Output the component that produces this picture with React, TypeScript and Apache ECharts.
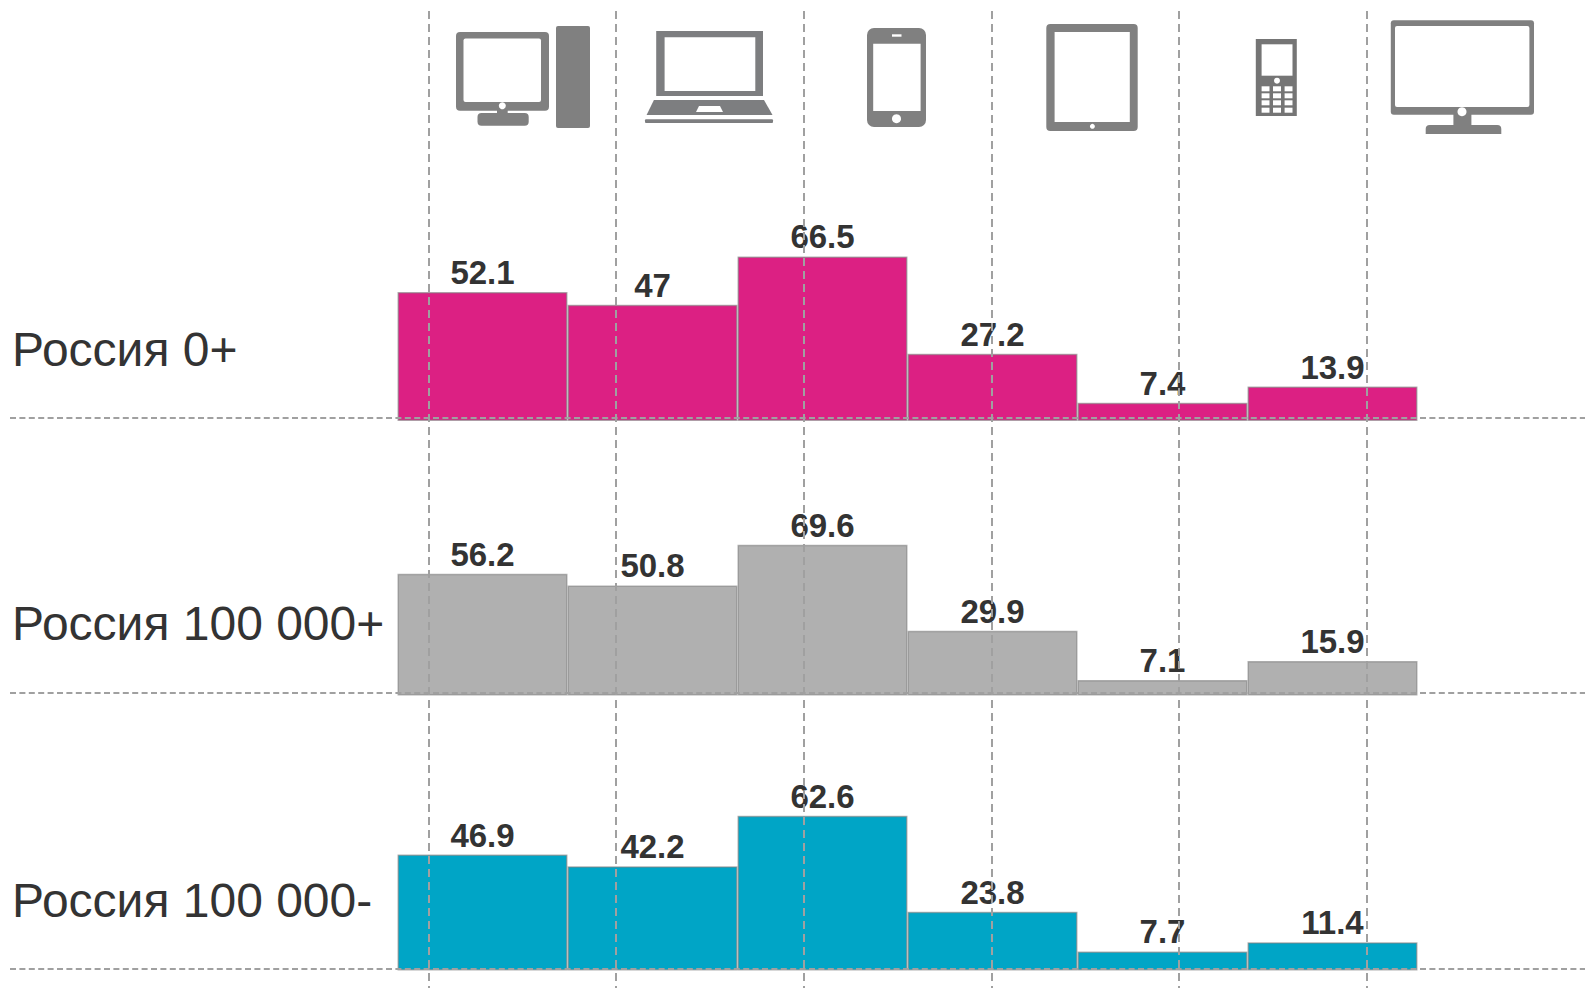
import React, { useEffect, useRef } from "react";
import * as echarts from "echarts";

const devices = ["Настольный компьютер", "Ноутбук", "Смартфон", "Планшет", "Мобильный телефон", "Телевизор"];
const rowNames = ["Россия 0+", "Россия 100 000+", "Россия 100 000-"];
const russiaAll = [52.1, 47, 66.5, 27.2, 7.4, 13.9];
const russiaBig = [56.2, 50.8, 69.6, 29.9, 7.1, 15.9];
const russiaSmall = [46.9, 42.2, 62.6, 23.8, 7.7, 11.4];
const rowValues = [russiaAll, russiaBig, russiaSmall];
const rowColors = ["#dc2083", "#b0b0b0", "#00a5c6"];
const rowAxisMax = [68.7, 78.5, 68.8];
const rowBaselines = [421, 695.5, 970.5];
const rowLabelCenters = [349, 623, 900.5];

const GREY = "#808080";
const box = (x0: number, y0: number, x1: number, y1: number, fill = GREY, r: any = 0) => ({
  type: "rect",
  z: 1,
  shape: { x: x0, y: y0, width: x1 - x0, height: y1 - y0, r },
  style: { fill },
});
const dot = (cx: number, cy: number, r: number, fill = "#fff") => ({
  type: "circle",
  z: 1,
  shape: { cx, cy, r },
  style: { fill },
});
const poly = (points: number[][], fill = GREY) => ({
  type: "polygon",
  z: 1,
  shape: { points },
  style: { fill },
});

function iconElements() {
  const keyCols = [[1261.6, 1269.5], [1273, 1281], [1284.6, 1292.5]];
  const keyRows = [[86.3, 91.3], [93.3, 98.3], [100.3, 105.3], [107.7, 112.7]];
  const keys: any[] = [];
  keyRows.forEach((r) => keyCols.forEach((c) => keys.push(box(c[0], r[0], c[1], r[1], "#fff"))));
  const children: any[] = [
    // desktop
    box(456, 32, 549, 110.7, GREY, 4),
    box(463.5, 38.5, 541, 102, "#fff", 2),
    box(497, 109, 507.7, 114),
    box(477.5, 113, 528.7, 125.7, GREY, 4),
    dot(502.3, 105.7, 3.5),
    box(556, 26, 590, 128, GREY, 2),
    // laptop
    box(656.2, 31, 763, 96, "#7d7e80"),
    box(664.6, 37.3, 755.3, 91, "#fff"),
    poly([[653.9, 100], [764, 100], [772.5, 115], [646.6, 115]], "#7d7e80"),
    poly([[699, 106], [720, 106], [723, 112], [696, 112]], "#fff"),
    box(645, 119.3, 773, 123, "#7d7e80", 1),
    // smartphone
    box(867, 28, 926, 127, GREY, 7),
    box(873.2, 43.7, 920.6, 111, "#fff"),
    box(892, 34.3, 901.5, 36.7, "#fff"),
    dot(896.5, 118.7, 4.5),
    // tablet
    box(1046.3, 24, 1137.7, 131, GREY, 4),
    box(1054.6, 32, 1129.8, 122, "#fff"),
    dot(1092.4, 126.3, 2.5),
    // feature phone
    box(1255.8, 39, 1296.8, 116, "#757575"),
    box(1261.6, 44.3, 1292.5, 75.7, "#fff"),
    dot(1277, 80.7, 3),
    ...keys,
    // tv
    box(1390.8, 20.3, 1534, 114.7, GREY, 3),
    box(1395, 26, 1529.4, 107, "#fff", 2),
    box(1453.4, 114, 1471.4, 126),
    box(1425.7, 125, 1501.3, 134, GREY, [4, 4, 0, 0]),
    dot(1462, 111.7, 4.5),
  ];
  return children;
}

const verticalDash = { show: true, lineStyle: { color: "#a0a0a0", width: 2, type: [8, 5] as any } };
const horizontalDash = { show: true, lineStyle: { color: "#a0a0a0", width: 2, type: [6, 3.4] as any } };
const hiddenParts = { axisLine: { show: false }, axisTick: { show: false }, axisLabel: { show: false } };

export default function App() {
  const ref = useRef<HTMLDivElement>(null);
  useEffect(() => {
    document.body.style.margin = "0";
    const chart = echarts.init(ref.current!, null, { renderer: "svg" });
    const grids: any[] = rowBaselines.map((b) => ({
      left: 397.5,
      width: 1020,
      top: b - 170,
      height: 170,
    }));
    grids.push({ left: 428.6, width: 937.8, top: 11, height: 977 });
    grids.push({ left: 10, width: 1575, top: 418, height: 550.3 });

    const xAxis: any[] = rowBaselines.map((_, i) => ({
      type: "category",
      gridIndex: i,
      data: devices,
      show: false,
    }));
    const yAxis: any[] = rowBaselines.map((_, i) => ({
      type: "value",
      gridIndex: i,
      min: 0,
      max: rowAxisMax[i],
      show: false,
    }));
    // vertical dashed guides, one per device
    xAxis.push({ type: "value", gridIndex: 3, min: 0, max: 5, interval: 1, z: 4, ...hiddenParts, splitLine: verticalDash });
    yAxis.push({ type: "value", gridIndex: 3, min: 0, max: 1, show: false });
    // horizontal dashed guides, one per row
    xAxis.push({ type: "value", gridIndex: 4, min: 0, max: 1, show: false });
    yAxis.push({ type: "value", gridIndex: 4, min: 0, max: 2, interval: 1, z: 4, ...hiddenParts, splitLine: horizontalDash });

    chart.setOption({
      animation: false,
      backgroundColor: "#ffffff",
      grid: grids,
      xAxis,
      yAxis,
      series: rowValues.map((vals, i) => ({
        type: "bar",
        name: rowNames[i],
        xAxisIndex: i,
        yAxisIndex: i,
        data: vals,
        barCategoryGap: "0%",
        z: 2,
        itemStyle: { color: rowColors[i], borderColor: "rgba(128,128,128,0.6)", borderWidth: 1.5 },
        label: {
          show: true,
          position: "top",
          distance: 3,
          fontFamily: "Liberation Sans",
          fontWeight: "bold",
          fontSize: 33,
          color: "#333333",
          formatter: (p: any) => String(p.value),
        },
      })),
      graphic: [
        ...iconElements(),
        ...rowNames.map((t, i) => ({
          type: "text",
          z: 1,
          x: 12,
          y: rowLabelCenters[i],
          style: {
            text: t,
            fill: "#333333",
            font: "48px 'Liberation Sans'",
            verticalAlign: "middle",
          },
        })),
      ],
    });
    return () => chart.dispose();
  }, []);
  return <div ref={ref} style={{ position: "absolute", left: 0, top: 0, width: 1585, height: 988 }} />;
}
